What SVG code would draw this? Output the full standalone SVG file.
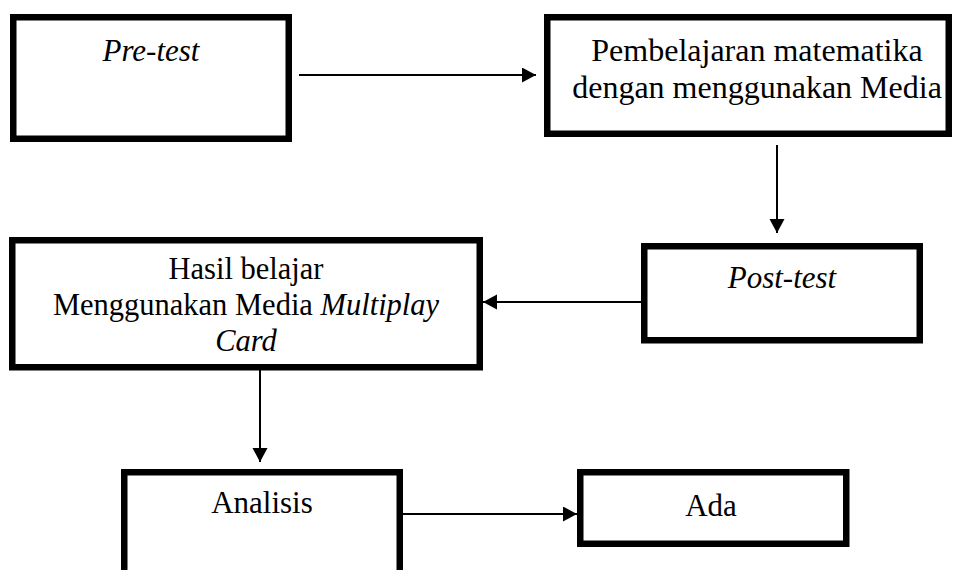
<svg xmlns="http://www.w3.org/2000/svg" width="955" height="570" viewBox="0 0 955 570">
  <style>
    .box { fill: #ffffff; stroke: #000000; stroke-width: 6.5; }
    .t { font-family: "Liberation Serif", "Times New Roman", serif; font-size: 31px; fill: #000000; text-anchor: middle; }
    .l { font-size: 32px; }
    .s { font-size: 30.5px; }
    .i { font-style: italic; }
    .c { fill: none; stroke: #000000; stroke-width: 2; }
  </style>
  <defs>
    <marker id="ah" markerUnits="userSpaceOnUse" markerWidth="15" markerHeight="16" refX="14" refY="7.5" orient="auto" viewBox="0 0 15 16">
      <path d="M0,0 L14,7.5 L0,15 Z" fill="#000000"/>
    </marker>
  </defs>
  <rect width="955" height="570" fill="#ffffff"/>

  <g id="pretest">
    <rect class="box" x="13.25" y="17.25" width="275.5" height="121.5"/>
    <text class="t i" x="151" y="61">Pre-test</text>
  </g>

  <g id="pembelajaran">
    <rect class="box" x="547.25" y="17.25" width="401.5" height="116.5"/>
    <text class="t l" x="757" y="61">Pembelajaran matematika</text>
    <text class="t l" x="757" y="98">dengan menggunakan Media</text>
  </g>

  <g id="posttest">
    <rect class="box" x="644.25" y="246.25" width="275.5" height="94"/>
    <text class="t i" x="782" y="288">Post-test</text>
  </g>

  <g id="hasil">
    <rect class="box" x="12.25" y="240.25" width="467.5" height="127"/>
    <text class="t s" x="246" y="279">Hasil belajar</text>
    <text class="t s" x="246" y="315">Menggunakan Media <tspan class="i">Multiplay</tspan></text>
    <text class="t s i" x="246" y="351">Card</text>
  </g>

  <g id="analisis">
    <rect class="box" x="124.25" y="472.25" width="275.5" height="140"/>
    <text class="t" x="262" y="513">Analisis</text>
  </g>

  <g id="ada">
    <rect class="box" x="580.25" y="472.25" width="266" height="71.5"/>
    <text class="t" x="711" y="516">Ada</text>
  </g>

  <g id="connectors">
    <line class="c" x1="299" y1="75" x2="536" y2="75" marker-end="url(#ah)"/>
    <line class="c" x1="777" y1="145" x2="777" y2="233" marker-end="url(#ah)"/>
    <line class="c" x1="641" y1="302" x2="483" y2="302" marker-end="url(#ah)"/>
    <line class="c" x1="260" y1="370" x2="260" y2="462" marker-end="url(#ah)"/>
    <line class="c" x1="403" y1="514" x2="577" y2="514" marker-end="url(#ah)"/>
  </g>
</svg>
